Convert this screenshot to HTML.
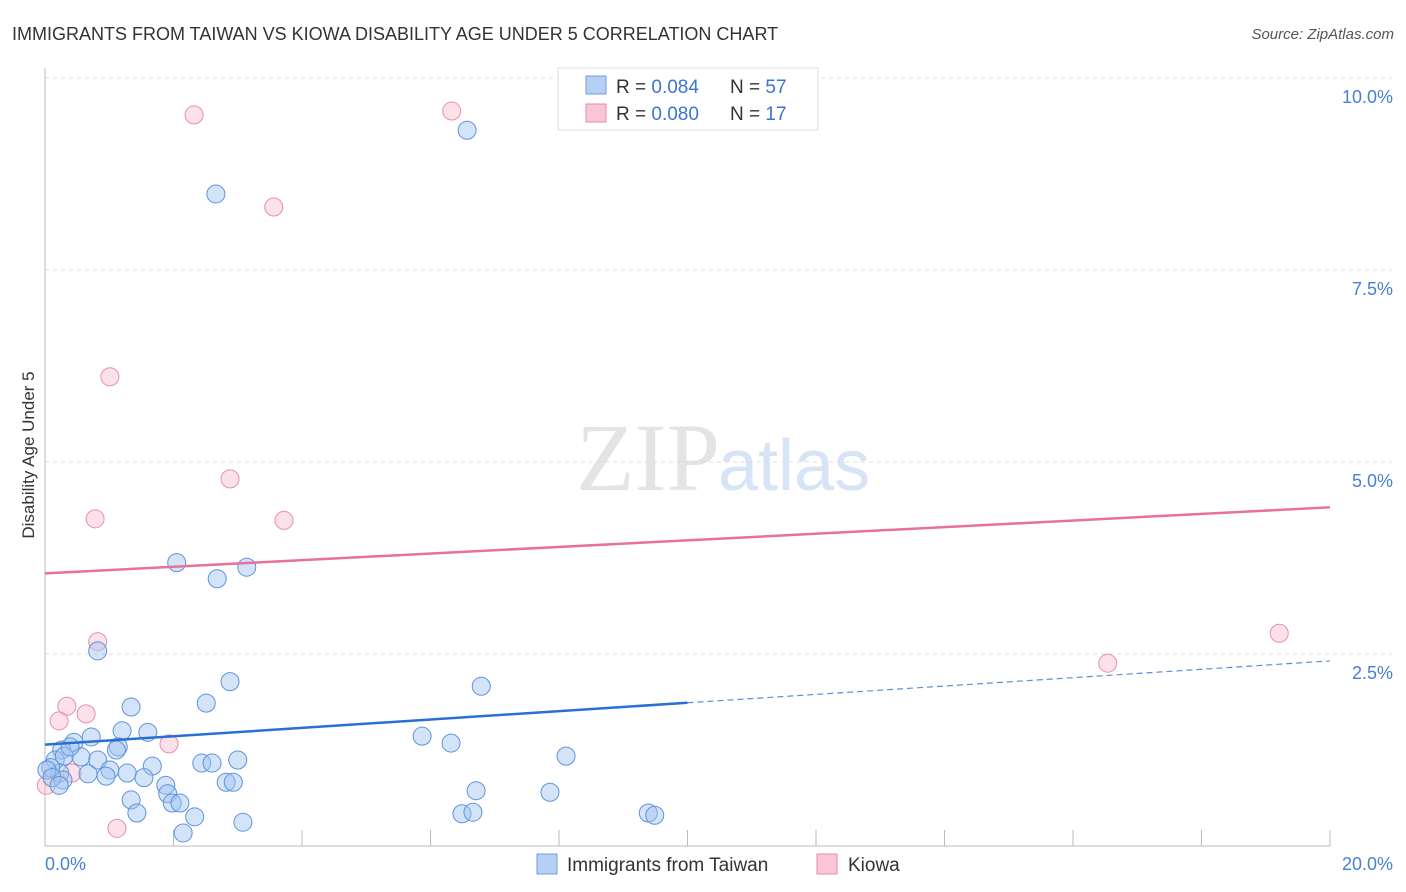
<!DOCTYPE html>
<html><head><meta charset="utf-8"><style>
body{margin:0;background:#fff;font-family:"Liberation Sans",sans-serif}
svg{display:block}
</style></head><body>
<svg width="1406" height="892" xmlns="http://www.w3.org/2000/svg" font-family="Liberation Sans, sans-serif">
<text x="12" y="40" font-size="18" fill="#333">IMMIGRANTS FROM TAIWAN VS KIOWA DISABILITY AGE UNDER 5 CORRELATION CHART</text>
<text x="1394" y="39" font-size="15" fill="#555" font-style="italic" text-anchor="end">Source: ZipAtlas.com</text>
<text x="720" y="490" font-size="96" fill="#e4e4e4" text-anchor="end" font-family="Liberation Serif, serif">ZIP</text>
<text x="718" y="490" font-size="72" fill="#d6e4f6">atlas</text>
<g id="grid"></g>
<g id="axes"></g>
<g id="marks"></g>
<text transform="translate(34,455) rotate(-90)" font-size="17" fill="#333" text-anchor="middle">Disability Age Under 5</text>
<text x="45" y="870" font-size="18" fill="#4a7fd6">0.0%</text>
<text x="1393" y="870" font-size="18" fill="#4a7fd6" text-anchor="end">20.0%</text>
<g>
<rect x="558" y="68" width="260" height="62" fill="#fff" stroke="#ddd"/>
<rect x="586" y="76" width="20" height="18" fill="#b6d0f4" stroke="#6f9ee0"/>
<rect x="586" y="104" width="20" height="18" fill="#f9c6d5" stroke="#e88aa8"/>
<text x="616" y="93" font-size="19" fill="#333">R = <tspan fill="#3c74d0">0.084</tspan><tspan x="730">N = </tspan><tspan fill="#3c74d0">57</tspan></text>
<text x="616" y="120" font-size="19" fill="#333">R = <tspan fill="#3c74d0">0.080</tspan><tspan x="730">N = </tspan><tspan fill="#3c74d0">17</tspan></text>
</g>
<g>
<rect x="537" y="854" width="20" height="20" fill="#b6d0f4" stroke="#6f9ee0"/>
<text x="567" y="871" font-size="19" fill="#333">Immigrants from Taiwan</text>
<rect x="817" y="854" width="20" height="20" fill="#f9c6d5" stroke="#e88aa8"/>
<text x="848" y="871" font-size="19" fill="#333">Kiowa</text>
</g>
</svg>
<script>
const blueX=[6.57,2.66,2.05,2.68,3.14,0.82,2.88,6.79,2.51,1.34,5.87,6.32,8.11,1.20,1.60,0.72,0.45,1.14,0.26,0.16,0.82,1.11,0.30,0.56,2.44,2.60,3.00,1.67,1.01,1.28,1.54,1.88,0.95,0.67,0.23,0.09,0.28,2.82,2.93,6.71,7.86,1.91,1.34,1.98,2.10,1.43,2.33,6.49,6.66,9.39,9.49,3.08,2.15,0.03,0.11,0.39,0.22];
const blueY=[9.32,8.49,3.69,3.48,3.63,2.54,2.14,2.08,1.86,1.81,1.43,1.34,1.17,1.50,1.48,1.42,1.35,1.29,1.25,1.12,1.12,1.25,1.17,1.16,1.08,1.08,1.12,1.04,0.99,0.95,0.89,0.79,0.91,0.94,0.95,1.02,0.86,0.83,0.83,0.72,0.70,0.68,0.60,0.56,0.56,0.43,0.38,0.42,0.44,0.43,0.40,0.31,0.17,0.99,0.89,1.29,0.79];
const pinkX=[2.32,6.33,3.56,1.01,2.88,0.78,3.72,0.82,19.21,16.54,0.34,0.22,0.64,1.93,0.42,0.02,1.12];
const pinkY=[9.52,9.57,8.32,6.11,4.78,4.26,4.24,2.66,2.77,2.38,1.82,1.63,1.72,1.33,0.95,0.79,0.23];
const blueTrend=[1.32,2.41]; // value at x=0 and x=20
const pinkTrend=[3.55,4.41];
const yTicks=[2.5,5.0,7.5,10.0];
const xTicks=[2,4,6,8,10,12,14,16,18,20];
const NS='http://www.w3.org/2000/svg';
const sx=v=>45+v*64.25, sy=v=>846-v*76.8;
function mk(tag,attrs,parent){const e=document.createElementNS(NS,tag);for(const k in attrs)e.setAttribute(k,attrs[k]);document.getElementById(parent).appendChild(e);return e;}
yTicks.forEach(t=>{
 const l=mk('line',{x1:45,x2:1392,y1:sy(t),y2:sy(t),stroke:'#ddd','stroke-dasharray':'4,4'},'grid');
 
 
 const tx=mk('text',{x:1393,y:sy(t)+25,'font-size':18,fill:'#4a7fd6','text-anchor':'end'},'grid');
 tx.textContent=t.toFixed(1)+'%';
 
 
});
let a=mk('line',{x1:45,x2:45,y1:68,y2:846,stroke:'#bbb'},'axes');


a=mk('line',{x1:45,x2:1330,y1:846,y2:846,stroke:'#bbb'},'axes');


xTicks.forEach(t=>{
 const l=mk('line',{x1:sx(t),x2:sx(t),y1:830,y2:846,stroke:'#bbb'},'axes');
 
 
});
function dots(X,Y,fill,stroke,name){X.forEach((x,i)=>{
 const c=mk('circle',{cx:sx(x),cy:sy(Y[i]),r:9,fill:fill,stroke:stroke,'stroke-width':1},'marks');
 
 
});}
dots(pinkX,pinkY,'rgba(248,180,200,0.4)','#e890ab','kiowa-point');
dots(blueX,blueY,'rgba(160,196,240,0.45)','#5f93dc','taiwan-point');
const bAt=x=>blueTrend[0]+(blueTrend[1]-blueTrend[0])*x/20;
const pAt=x=>pinkTrend[0]+(pinkTrend[1]-pinkTrend[0])*x/20;
let t=mk('line',{x1:sx(0),y1:sy(bAt(0)),x2:sx(10),y2:sy(bAt(10)),stroke:'#2a6fd4','stroke-width':2.5},'marks');


t=mk('line',{x1:sx(10),y1:sy(bAt(10)),x2:sx(20),y2:sy(bAt(20)),stroke:'#5b8fd9','stroke-width':1.2,'stroke-dasharray':'6,4'},'marks');


t=mk('line',{x1:sx(0),y1:sy(pAt(0)),x2:sx(20),y2:sy(pAt(20)),stroke:'#e8709a','stroke-width':2.5},'marks');


</script>
</body></html>
